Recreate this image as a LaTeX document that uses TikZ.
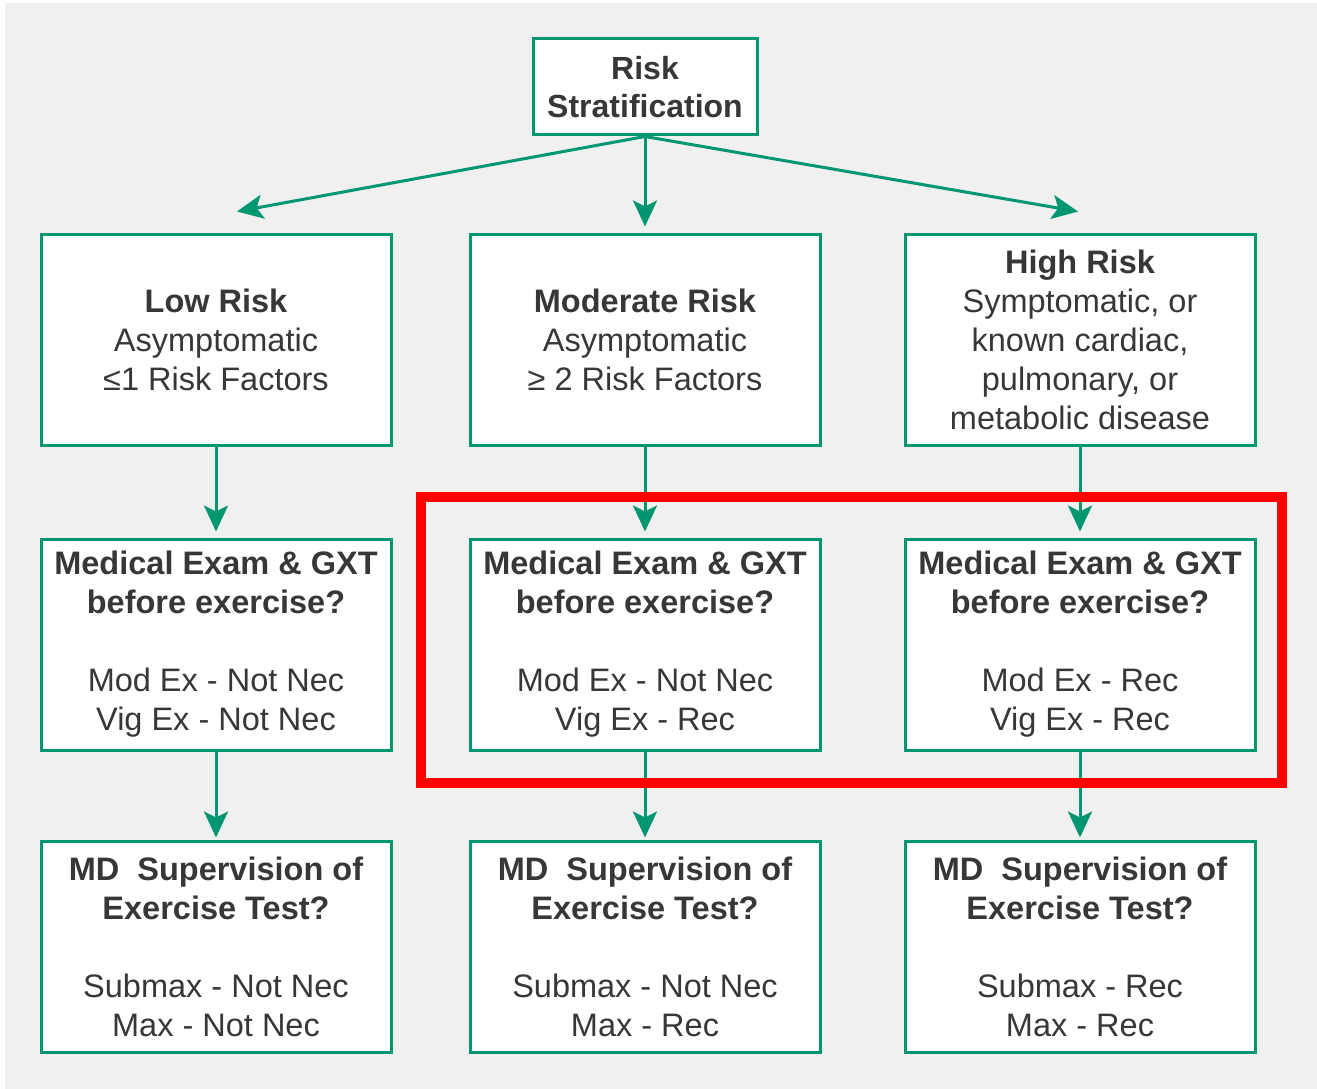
\documentclass[tikz,border=0pt]{standalone}
\usepackage{fontspec}
\setmainfont{Liberation Sans}
\usetikzlibrary{arrows.meta, positioning, calc}
\definecolor{flowgreen}{RGB}{0,150,112}
\definecolor{boxtext}{RGB}{55,55,55}
\definecolor{panelgrey}{RGB}{240,240,240}
\tikzset{
  block/.style = {draw=flowgreen, line width=3pt, fill=white, align=center, text=boxtext, inner sep=0pt,
                  minimum width=350pt, minimum height=211pt, font=\fontsize{32.5}{39}\selectfont},
  arrow/.style = {-{Stealth[length=26pt, width=24pt, inset=6pt]}, flowgreen, line width=3pt}
}

\begin{document}
\begin{tikzpicture}[x=1pt, y=1pt]

    \fill[white] (0,0) rectangle (1317,-1089);
    \fill[panelgrey] (5,-3) rectangle (1317,-1089);
    \useasboundingbox (0,0) rectangle (1317,-1089);

    \node[block, minimum width=224pt, minimum height=96pt, font=\bfseries\fontsize{32}{38}\selectfont] (strat) at (645,-87) {Risk\\Stratification};

    \node[block, below=96pt of strat] (mod) {\textbf{Moderate Risk}\\Asymptomatic\\≥ 2 Risk Factors};
    \node[block, left=76pt of mod] (low) {\textbf{Low Risk}\\Asymptomatic\\≤1 Risk Factors};
    \node[block, right=82pt of mod] (high) {\textbf{High Risk}\\Symptomatic, or\\known cardiac,\\pulmonary, or\\metabolic disease};

    \node[block, below=91pt of low] (lowexam) {\textbf{Medical Exam \& GXT}\\\textbf{before exercise?}\\[39pt]Mod Ex - Not Nec\\Vig Ex - Not Nec};
    \node[block, below=91pt of mod] (modexam) {\textbf{Medical Exam \& GXT}\\\textbf{before exercise?}\\[39pt]Mod Ex - Not Nec\\Vig Ex - Rec};
    \node[block, below=91pt of high] (highexam) {\textbf{Medical Exam \& GXT}\\\textbf{before exercise?}\\[39pt]Mod Ex - Rec\\Vig Ex - Rec};

    \node[block, below=88pt of lowexam] (lowmd) {\textbf{MD~~Supervision of}\\\textbf{Exercise Test?}\\[39pt]Submax - Not Nec\\Max - Not Nec};
    \node[block, below=88pt of modexam] (modmd) {\textbf{MD~~Supervision of}\\\textbf{Exercise Test?}\\[39pt]Submax - Not Nec\\Max - Rec};
    \node[block, below=88pt of highexam] (highmd) {\textbf{MD~~Supervision of}\\\textbf{Exercise Test?}\\[39pt]Submax - Rec\\Max - Rec};

    \coordinate (low-in)  at ($(low.north) + (21,21)$);
    \coordinate (high-in) at ($(high.north) + (-2,21)$);

    \draw[arrow] (strat.south) -- (low-in);
    \draw[arrow, shorten >=6pt] (strat.south) -- (mod.north);
    \draw[arrow] (strat.south) -- (high-in);

    \draw[arrow, shorten >=6pt] (low.south) -- (lowexam.north);
    \draw[arrow, shorten >=6pt] (mod.south) -- (modexam.north);
    \draw[arrow, shorten >=6pt] (high.south) -- (highexam.north);

    \draw[arrow, shorten >=2pt] (lowexam.south) -- (lowmd.north);
    \draw[arrow, shorten >=2pt] (modexam.south) -- (modmd.north);
    \draw[arrow, shorten >=2pt] (highexam.south) -- (highmd.north);

    \draw[red, line width=10pt] ($(modexam.north west) + (-48,41)$) rectangle ($(highexam.south east) + (25,-31)$);

  \end{tikzpicture}
\end{document}
